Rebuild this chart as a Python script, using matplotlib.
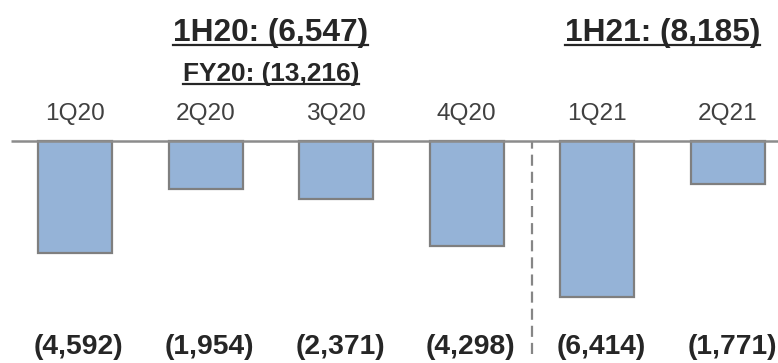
import matplotlib
matplotlib.use("Agg")
import matplotlib.pyplot as plt
import matplotlib.transforms as mtransforms

plt.rcParams["font.family"] = ["Liberation Sans", "DejaVu Sans"]

# Quarterly values (negative)
quarters = ["1Q20", "2Q20", "3Q20", "4Q20", "1Q21", "2Q21"]
values = [-4592, -1954, -2371, -4298, -6414, -1771]
value_labels = ["(4,592)", "(1,954)", "(2,371)", "(4,298)", "(6,414)", "(1,771)"]

# Period summaries
period_labels = ["1H20: (6,547)", "1H21: (8,185)"]
period_pos = [1.5, 4.5]
fy_label = "FY20: (13,216)"

bar_color = "#95B3D7"
edge_color = "#7F7F7F"

fig = plt.figure(figsize=(7.78, 3.63), dpi=100)
ax = fig.add_axes([0, 0, 1, 1])
ax.set_xlim(-0.574, 5.383)
ax.set_ylim(-9117, 5790)
ax.axis("off")

x = list(range(len(quarters)))
ax.bar(x, values, width=0.567, color=bar_color, edgecolor=edge_color,
       linewidth=1.6, zorder=2)

# Zero line
ax.hlines(0, -0.49, 5.383, color="#8C8C8C", linewidth=1.8, zorder=3)

# Divider between FY20 and FY21
ax.axvline(3.5, ymin=0.025, ymax=0.611, color="#868686", linewidth=1.6,
           linestyle=(0, (5, 2.7)), zorder=1)

trans = mtransforms.blended_transform_factory(ax.transData, ax.transAxes)

for i, q in enumerate(quarters):
    ax.text(i, 0.686, q, transform=trans, ha="center", va="center",
            fontsize=17.6, color="#404040")
    ax.text(i + 0.03, 0.043, value_labels[i], transform=trans, ha="center",
            va="center", fontsize=20.3, fontweight="bold", color="#262626")

titles = []
for lab, pos in zip(period_labels, period_pos):
    t = ax.text(pos, 0.91, lab, transform=trans, ha="center", va="center",
                fontsize=22.8, fontweight="bold", color="#262626")
    titles.append(t)
t = ax.text(1.5, 0.795, fy_label, transform=trans, ha="center", va="center",
            fontsize=18.9, fontweight="bold", color="#262626")
titles.append(t)

# Underline the period summaries
renderer = fig.canvas.get_renderer()
for t in titles:
    bb = t.get_window_extent(renderer=renderer)
    fx0, fy0 = fig.transFigure.inverted().transform((bb.x0, bb.y0))
    fx1, _ = fig.transFigure.inverted().transform((bb.x1, bb.y0))
    fig.add_artist(plt.Line2D([fx0, fx1], [fy0 + 0.006, fy0 + 0.006],
                              transform=fig.transFigure, color="#262626",
                              linewidth=1.6))

fig.savefig("out.png", dpi=100)
